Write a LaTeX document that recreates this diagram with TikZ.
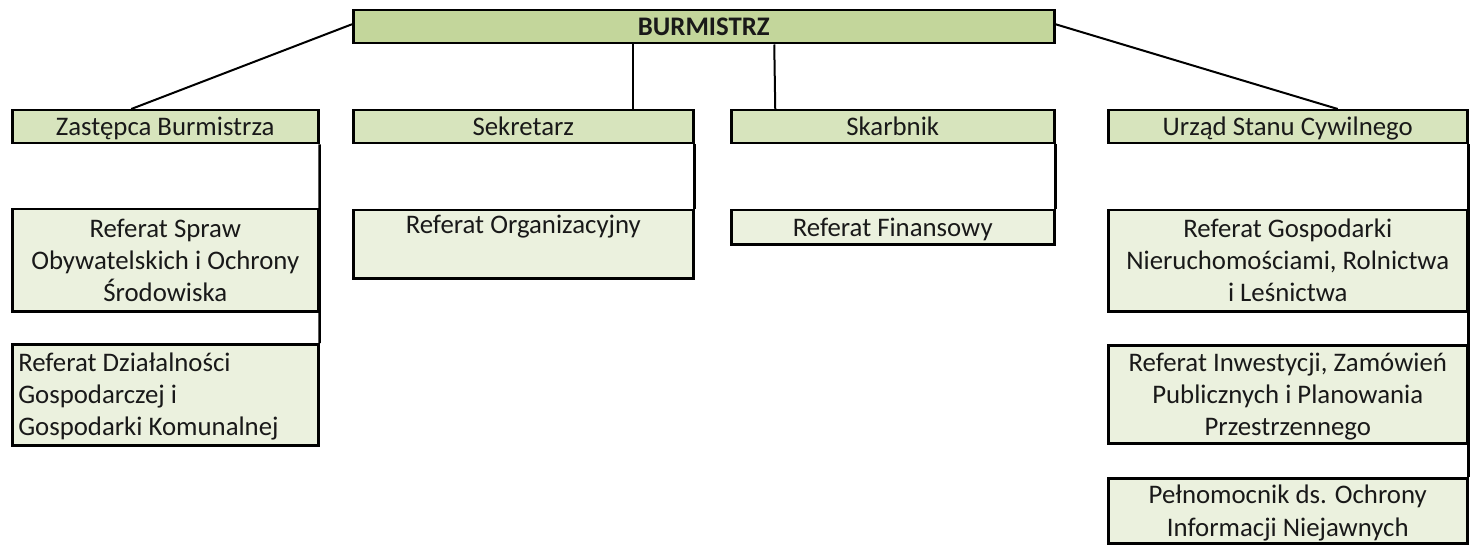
\documentclass[tikz,border=0pt]{standalone}
\usepackage{fontspec}
\setmainfont{Carlito}
\newcommand{\fs}{\fontsize{26.8bp}{31.8bp}\selectfont}
\newcommand{\tstrut}{\rule[-7bp]{0pt}{32bp}}
\definecolor{topc}{HTML}{C3D69B}
\definecolor{midc}{HTML}{D7E4BD}
\definecolor{lowc}{HTML}{EBF1DE}
\tikzset{
  box/.style={draw=black, line width=2.5bp, anchor=north west, inner xsep=4bp, inner ysep=0pt, align=flush center, font=\fs, text=black!90,
    execute at begin node={\tstrut}, execute at end node={\tstrut}},
  topbox/.style={box, fill=topc},
  midbox/.style={box, fill=midc},
  lowbox/.style={box, fill=lowc},
  txt/.style={inner sep=0pt, font=\fs, align=flush center, text=black!90},
  conn/.style={draw=black, line width=2bp},
  sideconn/.style={draw=black, line width=2.5bp},
}
\begin{document}
\begin{tikzpicture}[x=1bp, y=-1bp]
\useasboundingbox (0,0) rectangle (1474,545);
% top
\node[topbox, text width=693bp, minimum height=33bp] (burm) at (352,9) {\bfseries BURMISTRZ};
% level 2
\node[midbox, text width=298bp, minimum height=33bp] (zast) at (11,109) {Zastępca Burmistrza};
\node[midbox, text width=332bp, minimum height=33bp] (sek) at (352,109) {Sekretarz};
\node[midbox, text width=315bp, minimum height=33bp] (skarb) at (730,109) {Skarbnik};
\node[midbox, text width=351bp, minimum height=33bp] (usc) at (1107,109) {Urząd Stanu Cywilnego};
% level 3
\node[lowbox, text width=298bp, minimum height=102bp] (spraw) at (11,208) {Referat Spraw\\Obywatelskich i Ochrony\\Środowiska};
\node[lowbox, text width=294bp, inner xsep=6bp, minimum height=101bp, align=flush left] (dzial) at (11,343) {Referat Działalności\\Gospodarczej i\\Gospodarki Komunalnej};
\node[lowbox, text width=332bp, minimum height=68bp] (org) at (352,209) {};
\node[txt, anchor=north] (orgt) at ([yshift=1bp]org.north) {\tstrut Referat Organizacyjny};
\node[lowbox, text width=315bp, minimum height=34bp] (fin) at (730,209) {Referat Finansowy};
\node[lowbox, text width=351bp, minimum height=101bp] (gosp) at (1107,209) {Referat Gospodarki\\Nieruchomościami, Rolnictwa\\i Leśnictwa};
\node[lowbox, text width=351bp, minimum height=98bp] (inw) at (1107,344) {Referat Inwestycji, Zamówień\\Publicznych i Planowania\\Przestrzennego};
\node[lowbox, text width=351bp, minimum height=65bp] (peln) at (1107,477) {Pełnomocnik ds. Ochrony\\Informacji Niejawnych};
% connectors from top
\draw[conn] ([yshift=2.5bp]burm.west) -- ([xshift=-34bp]zast.north);
\draw[conn] ([yshift=2.5bp]burm.east) -- ([xshift=50bp]usc.north);
\draw[conn] ([xshift=110bp]sek.north |- burm.south) -- ([xshift=110bp]sek.north);
\draw[conn] ([xshift=-118.5bp]skarb.north |- burm.south) -- ([xshift=-117.5bp]skarb.north);
% side connectors
\draw[sideconn] (zast.south east) -- (dzial.north east);
\draw[sideconn] (sek.south east) -- (org.north east);
\draw[sideconn] (skarb.south east) -- (fin.north east);
\draw[sideconn] (usc.south east) -- (peln.north east);
\end{tikzpicture}
\end{document}
